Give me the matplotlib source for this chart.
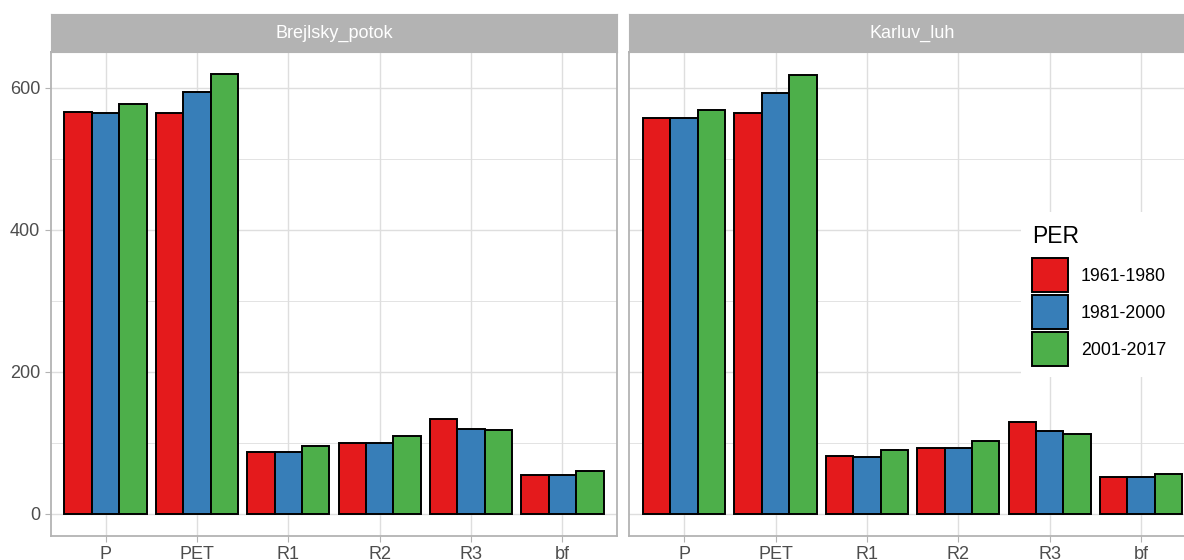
import numpy as np
import matplotlib
matplotlib.use("Agg")
import matplotlib.pyplot as plt
from matplotlib.patches import Rectangle

plt.rcParams['font.family'] = ['Liberation Sans', 'DejaVu Sans']

# water balance components per catchment and period
variables = ['P', 'PET', 'R1', 'R2', 'R3', 'bf']
periods = ['1961-1980', '1981-2000', '2001-2017']
colors = ['#E41A1C', '#377EB8', '#4DAF4A']

brejlsky_1961 = [566, 565, 87, 100, 133, 55]
brejlsky_1981 = [565, 594, 87, 99, 120, 54]
brejlsky_2001 = [577, 619, 96, 109, 118, 60]

karluv_1961 = [558, 565, 81, 93, 129, 52]
karluv_1981 = [557, 593, 80, 92, 116, 52]
karluv_2001 = [569, 618, 90, 102, 113, 56]

panels = {
    'Brejlsky_potok': [brejlsky_1961, brejlsky_1981, brejlsky_2001],
    'Karluv_luh': [karluv_1961, karluv_1981, karluv_2001],
}

W, H = 1184, 560
fig = plt.figure(figsize=(W / 100, H / 100), dpi=100)

def px_axes(x0, y0, x1, y1):
    """Axes placed by pixel box (top-left origin)."""
    return fig.add_axes([x0 / W, 1 - y1 / H, (x1 - x0) / W, (y1 - y0) / H])

grid_col = '#DEDEDE'
border_col = '#B3B3B3'
edge_lw = 1.4
ymax = max(max(s) for series in panels.values() for s in series)
ylim = (-0.05 * ymax, 1.05 * ymax)
x = np.arange(len(variables))
bw = 0.3

panel_w = 566.6
lefts = [50.7, 629.3]
top, bottom, strip_top = 52.3, 535.7, 14.0

for i, (name, series) in enumerate(panels.items()):
    x0 = lefts[i]
    ax = px_axes(x0, top, x0 + panel_w, bottom)
    for k, vals in enumerate(series):
        ax.bar(x + (k - 1) * bw, vals, width=bw, color=colors[k],
               edgecolor='black', linewidth=edge_lw, zorder=3)
    ax.set_xlim(-0.6, len(variables) - 0.4)
    ax.set_ylim(*ylim)
    ax.set_xticks(x)
    ax.set_xticklabels(variables)
    ax.set_yticks([0, 200, 400, 600])
    ax.set_yticks([100, 300, 500], minor=True)
    ax.grid(which='major', color=grid_col, linewidth=1.0, zorder=0)
    ax.grid(which='minor', axis='y', color=grid_col, linewidth=0.6, zorder=0)
    ax.tick_params(which='major', length=4.5, width=0.8, color=border_col,
                   labelsize=13, labelcolor='#4D4D4D', pad=3)
    ax.tick_params(which='minor', length=0)
    if i > 0:
        ax.tick_params(axis='y', labelleft=False, length=0)
    for sp in ax.spines.values():
        sp.set_color(border_col)
        sp.set_linewidth(1.3)
    ax.set_axisbelow(True)

    # facet strip
    sax = px_axes(x0, strip_top, x0 + panel_w, top)
    sax.set_facecolor(border_col)
    sax.set_xticks([])
    sax.set_yticks([])
    for sp in sax.spines.values():
        sp.set_color(border_col)
    sax.text(0.5, 0.5, name, ha='center', va='center', color='white',
             fontsize=13, transform=sax.transAxes)

# legend drawn inside the right panel, in pixel units
lx0, ly0, lx1, ly1 = 1021, 212, W, 377
lax = px_axes(lx0, ly0, lx1, ly1)
lax.set_xlim(lx0, lx1)
lax.set_ylim(ly1, ly0)
lax.set_facecolor('white')
lax.axis('off')
lax.add_patch(Rectangle((lx0, ly0), lx1 - lx0, ly1 - ly0, facecolor='white',
                        edgecolor='none', zorder=0))
lax.text(1032.3, 243, 'PER', fontsize=16.5, color='black',
         ha='left', va='baseline')
key_w, key_h, key_pitch, key_top = 35.4, 34.0, 37.0, 257.7
for k, (lab, c) in enumerate(zip(periods, colors)):
    ky = key_top + k * key_pitch
    lax.add_patch(Rectangle((1032.3, ky), key_w, key_h, facecolor=c,
                            edgecolor='black', linewidth=edge_lw, zorder=2))
    lax.text(1081, ky + key_h / 2 + 6.4, lab, fontsize=12.75, color='black',
             ha='left', va='baseline')

fig.savefig('out.png', dpi=100)
